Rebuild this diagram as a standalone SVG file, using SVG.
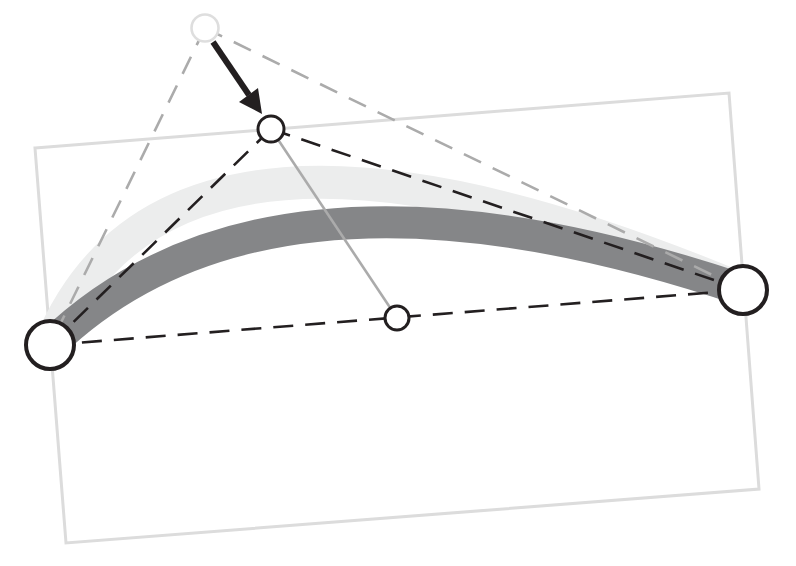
<svg xmlns="http://www.w3.org/2000/svg" width="796" height="566" viewBox="0 0 796 566">
<defs>
<style>
.frame{fill:none;stroke:#dcdcdc;stroke-width:3}
.band{fill:none;stroke-linecap:butt}
.gdash{fill:none;stroke:#ababab;stroke-width:2.6;stroke-dasharray:19 13}
.kdash{fill:none;stroke:#231f20;stroke-width:2.6;stroke-dasharray:20 12}
.pt{fill:#fff;stroke:#231f20}
</style>
</defs>
<rect width="796" height="566" fill="#fff"/>
<polygon class="frame" points="35,148 729,93 759,489 66,543"/>
<g id="curves">
<path class="band" stroke="#eceded" stroke-width="33" d="M50,345 Q172,50 743,290"/>
<path class="band" stroke="#858688" stroke-width="32" d="M50,345 Q271,131 743,290"/>
</g>
<g id="connectors">
<path class="gdash" d="M205,28 L50,345"/>
<path class="gdash" d="M205,28 L743,290"/>
<path class="kdash" d="M271,129 L50,345"/>
<path class="kdash" d="M271,129 L743,290"/>
<path class="kdash" d="M50,345 L743,290"/>
<path fill="none" stroke="#ababab" stroke-width="2.6" d="M271,129 L397,318"/>
<path fill="none" stroke="#231f20" stroke-width="6" d="M213,42 L249,95"/>
<polygon fill="#231f20" points="262,114 239,102 258,88"/>
</g>
<g id="old-control"><circle cx="205" cy="28" r="13.5" fill="#fff" stroke="#dedede" stroke-width="2.6"/></g>
<g id="control"><circle class="pt" cx="271" cy="129" r="13" stroke-width="3"/></g>
<g id="midpoint"><circle class="pt" cx="397" cy="318" r="12" stroke-width="3"/></g>
<g id="start"><circle class="pt" cx="50" cy="345" r="24" stroke-width="4"/></g>
<g id="end"><circle class="pt" cx="743" cy="290" r="24" stroke-width="4"/></g>
</svg>
